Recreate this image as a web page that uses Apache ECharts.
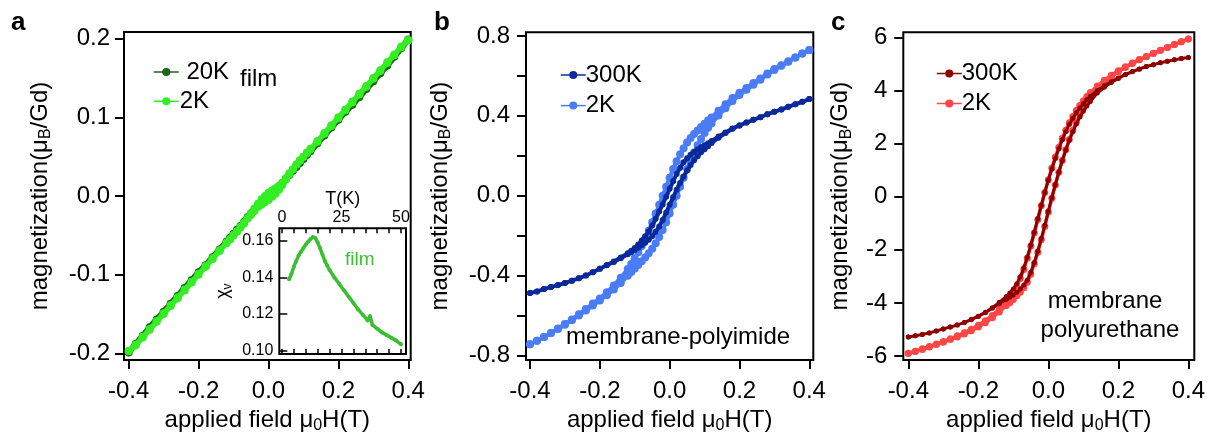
<!DOCTYPE html>
<html><head><meta charset="utf-8">
<script src="https://cdn.jsdelivr.net/npm/echarts@6/dist/echarts.min.js"></script>
<style>html,body{margin:0;padding:0;background:#fff}#c{width:1208px;height:435px}</style>
</head><body><div id="c"></div>
<script>
// ---------- data ----------
const fieldH = [-0.40,-0.38,-0.36,-0.34,-0.32,-0.30,-0.28,-0.26,-0.24,-0.22,-0.20,-0.18,-0.16,-0.14,-0.12,
  -0.11,-0.10,-0.09,-0.08,-0.07,-0.06,-0.05,-0.04,-0.03,-0.02,-0.01,0.00,0.01,0.02,0.03,0.04,0.05,0.06,0.07,0.08,0.09,0.10,0.11,
  0.12,0.14,0.16,0.18,0.20,0.22,0.24,0.26,0.28,0.30,0.32,0.34,0.36,0.38,0.40];

// panel a (film)
const film20K = [-0.199,-0.188,-0.178,-0.167,-0.157,-0.147,-0.137,-0.127,-0.117,-0.107,-0.097,-0.088,-0.078,-0.068,-0.058,
  -0.053,-0.048,-0.043,-0.038,-0.033,-0.027,-0.022,-0.017,-0.012,-0.008,-0.004,0.000,0.004,0.008,0.012,0.017,0.022,0.027,0.032,0.037,0.042,0.047,0.052,
  0.057,0.067,0.077,0.087,0.097,0.107,0.116,0.126,0.136,0.146,0.156,0.166,0.177,0.188,0.199];
const film2KDown = [-0.197,-0.190,-0.180,-0.170,-0.160,-0.150,-0.140,-0.130,-0.120,-0.110,-0.100,-0.090,-0.080,-0.070,-0.060,
  -0.055,-0.050,-0.045,-0.039,-0.034,-0.028,-0.022,-0.016,-0.010,-0.004,0.000,0.004,0.007,0.010,0.013,0.017,0.023,0.029,0.034,0.040,0.045,0.050,0.055,
  0.060,0.070,0.080,0.090,0.100,0.110,0.120,0.130,0.140,0.150,0.160,0.170,0.180,0.190,0.198];
const film2KUp = [-0.197,-0.189,-0.179,-0.169,-0.159,-0.149,-0.139,-0.129,-0.119,-0.109,-0.099,-0.089,-0.079,-0.069,-0.059,
  -0.055,-0.050,-0.045,-0.040,-0.035,-0.029,-0.024,-0.019,-0.014,-0.011,-0.008,-0.005,-0.001,0.003,0.008,0.014,0.021,0.028,0.034,0.040,0.045,0.050,0.055,
  0.059,0.069,0.079,0.089,0.099,0.109,0.119,0.129,0.139,0.149,0.159,0.169,0.179,0.189,0.198];

// inset: susceptibility of film vs T
const insetT = [3,4,5,6,7,8,9,10,11,12,13,14,15,16,17,18,19,20,22,24,26,28,30,32,34,36,37,38,40,42,44,46,48,50];
const insetChi = [0.139,0.142,0.146,0.149,0.152,0.154,0.156,0.158,0.1595,0.161,0.162,0.1615,0.159,0.156,0.1525,0.149,0.1465,0.144,
  0.140,0.1365,0.133,0.1295,0.126,0.1225,0.1195,0.1165,0.119,0.114,0.112,0.110,0.1085,0.107,0.1055,0.1035];

// panel b (membrane-polyimide)
const pi300KDown = [-0.488,-0.480,-0.468,-0.458,-0.448,-0.438,-0.426,-0.414,-0.400,-0.384,-0.366,-0.348,-0.330,-0.310,-0.288,
  -0.276,-0.262,-0.245,-0.225,-0.204,-0.180,-0.150,-0.116,-0.080,-0.044,-0.006,0.034,0.072,0.108,0.140,0.167,0.188,0.205,0.219,0.231,0.242,0.252,0.262,
  0.274,0.296,0.316,0.336,0.352,0.366,0.380,0.393,0.408,0.420,0.432,0.445,0.458,0.470,0.484];
const pi300KUp = [-0.488,-0.480,-0.468,-0.458,-0.448,-0.438,-0.426,-0.414,-0.400,-0.384,-0.366,-0.349,-0.332,-0.314,-0.294,
  -0.283,-0.272,-0.261,-0.249,-0.236,-0.221,-0.203,-0.181,-0.155,-0.122,-0.085,-0.046,-0.008,0.030,0.064,0.096,0.126,0.153,0.177,0.198,0.217,0.233,0.248,
  0.264,0.290,0.314,0.335,0.352,0.366,0.380,0.393,0.408,0.420,0.432,0.445,0.458,0.470,0.484];
const pi2KDown = [-0.745,-0.727,-0.708,-0.688,-0.666,-0.643,-0.620,-0.594,-0.568,-0.541,-0.515,-0.484,-0.450,-0.411,-0.367,
  -0.343,-0.314,-0.284,-0.252,-0.216,-0.176,-0.133,-0.090,-0.045,0.000,0.045,0.090,0.133,0.172,0.207,0.238,0.266,0.289,0.309,0.327,0.344,0.360,0.376,
  0.392,0.426,0.458,0.489,0.515,0.540,0.564,0.587,0.612,0.634,0.653,0.673,0.692,0.712,0.730];
const pi2KUp = [-0.745,-0.727,-0.708,-0.688,-0.668,-0.647,-0.624,-0.600,-0.576,-0.551,-0.525,-0.499,-0.470,-0.438,-0.401,
  -0.383,-0.365,-0.348,-0.329,-0.310,-0.289,-0.266,-0.238,-0.207,-0.172,-0.133,-0.090,-0.045,0.000,0.045,0.090,0.133,0.176,0.216,0.252,0.284,0.314,0.340,
  0.362,0.402,0.438,0.474,0.504,0.531,0.556,0.581,0.607,0.630,0.651,0.671,0.692,0.712,0.730];

// panel c (membrane polyurethane)
const pu300KDown = [-5.28,-5.24,-5.19,-5.13,-5.06,-4.98,-4.91,-4.83,-4.74,-4.62,-4.50,-4.35,-4.18,-3.98,-3.76,
  -3.63,-3.48,-3.28,-3.02,-2.68,-2.28,-1.82,-1.34,-0.83,-0.32,0.16,0.62,1.04,1.44,1.80,2.14,2.45,2.72,2.95,3.16,3.34,3.50,3.65,
  3.78,4.00,4.18,4.33,4.47,4.60,4.71,4.81,4.90,4.97,5.04,5.10,5.15,5.20,5.24];
const pu300KUp = [-5.28,-5.24,-5.19,-5.13,-5.06,-4.98,-4.91,-4.83,-4.74,-4.63,-4.51,-4.37,-4.20,-4.03,-3.87,
  -3.79,-3.70,-3.60,-3.48,-3.33,-3.14,-2.85,-2.48,-2.05,-1.58,-1.08,-0.55,-0.04,0.45,0.92,1.36,1.76,2.12,2.44,2.74,3.00,3.22,3.41,
  3.58,3.90,4.12,4.30,4.45,4.59,4.70,4.80,4.90,4.97,5.04,5.10,5.15,5.20,5.24];
const pu2KDown = [-5.90,-5.82,-5.73,-5.64,-5.55,-5.45,-5.35,-5.24,-5.12,-4.99,-4.84,-4.67,-4.47,-4.24,-3.97,
  -3.76,-3.58,-3.37,-3.08,-2.74,-2.32,-1.86,-1.37,-0.86,-0.34,0.16,0.64,1.08,1.49,1.86,2.20,2.50,2.78,3.02,3.24,3.43,3.61,3.77,
  3.92,4.17,4.38,4.57,4.74,4.89,5.03,5.16,5.28,5.40,5.51,5.62,5.73,5.83,5.94];
const pu2KUp = [-5.90,-5.83,-5.75,-5.66,-5.57,-5.48,-5.38,-5.28,-5.17,-5.05,-4.91,-4.75,-4.56,-4.34,-4.10,
  -3.99,-3.87,-3.73,-3.60,-3.43,-3.22,-2.92,-2.53,-2.09,-1.62,-1.12,-0.58,-0.06,0.44,0.92,1.36,1.77,2.15,2.50,2.80,3.08,3.33,3.55,
  3.74,4.05,4.30,4.51,4.70,4.86,5.01,5.15,5.27,5.39,5.50,5.62,5.73,5.83,5.94];

// tick values
const ticksField = [-0.4,-0.2,0,0.2,0.4];
const ticksA = [-0.2,-0.1,0,0.1,0.2];
const ticksBMajor = [-0.8,-0.4,0,0.4,0.8];
const ticksBAll = [-0.8,-0.6,-0.4,-0.2,0,0.2,0.4,0.6,0.8];
const ticksC = [-6,-4,-2,0,2,4,6];
const ticksInsetT = [0,25,50];
const ticksInsetTMinor = [0,5,10,15,20,25,30,35,40,45,50];
const ticksInsetChi = [0.10,0.12,0.14,0.16];

// ---------- helpers ----------
function branch(vals){ return fieldH.map((h,i)=>[h, vals[i]]); }
function loop(down, up){
  const pts = [];
  for (let i = fieldH.length-1; i >= 0; i--) pts.push([fieldH[i], down[i]]);
  for (let i = 0; i < fieldH.length; i++) pts.push([fieldH[i], up[i]]);
  return pts;
}
const FONT = '"Liberation Sans", Arial, Helvetica, sans-serif';
const BLACK = '#000';
const nameRich = {
  t: {fontSize: 24, fontFamily: FONT, color: BLACK, lineHeight: 28},
  s: {fontSize: 16, fontFamily: FONT, color: BLACK, lineHeight: 12, verticalAlign: 'bottom'}
};
const xName = '{t|applied field μ}{s|0}{t|H(T)}';
const yName = '{t|magnetization(μ}{s|B}{t|/Gd)}';

function fieldAxis(gi, min, max){
  return {gridIndex: gi, type: 'value', min, max,
    axisLine: {show: false, onZero: false}, splitLine: {show: false},
    axisTick: {show: true, length: 9, lineStyle: {color: BLACK, width: 2}, customValues: ticksField},
    axisLabel: {customValues: ticksField, formatter: v => v.toFixed(1), fontSize: 24, color: BLACK, fontFamily: FONT, margin: 19},
    name: xName, nameLocation: 'middle', nameGap: 46, nameTextStyle: {rich: nameRich}};
}
function magAxis(gi, min, max, tickVals, labelVals, dec, margin, gap){
  return {gridIndex: gi, type: 'value', min, max,
    axisLine: {show: false, onZero: false}, splitLine: {show: false},
    axisTick: {show: true, length: 9, lineStyle: {color: BLACK, width: 2}, customValues: tickVals},
    axisLabel: {customValues: labelVals, formatter: v => v.toFixed(dec), fontSize: 24, color: BLACK, fontFamily: FONT, margin},
    name: yName, nameLocation: 'middle', nameGap: gap, nameTextStyle: {rich: nameRich}};
}
function lineSeries(name, xi, data, color, size, width, z){
  return {name, type: 'line', xAxisIndex: xi, yAxisIndex: xi, data, color,
    symbol: 'circle', symbolSize: size, showAllSymbol: true, smooth: false,
    lineStyle: {width, color}, itemStyle: {color}, z, silent: true, animation: false,
    emphasis: {disabled: true}};
}
const COL = {a20: '#1c611c', a2: '#33ee22', inset: '#3cbe32', b300: '#0a2a9c', b2: '#4a7cf6', c300: '#8e0000', c2: '#ff4646'};
const legendNames = {a20K: ' 20K', a2K: '2K', b300K: '300K', b2K: '2K', c300K: '300K', c2K: '2K'};
function legend(names, left, top, gap, padLeft){
  return {data: names, left, top, orient: 'vertical', itemWidth: 25, itemHeight: 10, itemGap: gap,
    selectedMode: false, formatter: n => legendNames[n], lineStyle: {width: 1.5},
    textStyle: {fontSize: 24, color: BLACK, fontFamily: FONT, lineHeight: 24, padding: [0,0,0,padLeft]}};
}
function frame(left, top, width, height, bg){
  return {left, top, width, height, show: true, borderColor: BLACK, borderWidth: 2, backgroundColor: bg,
    outerBoundsMode: 'none', containLabel: false};
}

const option = {
  animation: false,
  backgroundColor: '#fff',
  textStyle: {fontFamily: FONT},
  grid: [
    frame(124, 32, 286.7, 328, 'transparent'),
    frame(526, 32.3, 287.3, 327.7, 'transparent'),
    frame(903.3, 32.3, 291, 327.7, 'transparent'),
    frame(279.3, 228.3, 126.7, 125.7, '#fff')
  ],
  xAxis: [
    fieldAxis(0, -0.4134, 0.4069),
    fieldAxis(1, -0.4115, 0.4115),
    fieldAxis(2, -0.4143, 0.4171),
    {gridIndex: 3, type: 'value', position: 'top', min: -1.13, max: 52.1,
      axisLine: {show: false, onZero: false}, splitLine: {show: false},
      axisTick: {show: true, inside: true, length: 5, lineStyle: {color: BLACK, width: 1.5}, customValues: ticksInsetTMinor},
      axisLabel: {customValues: ticksInsetT, fontSize: 16, color: BLACK, fontFamily: FONT, margin: 3},
      name: 'T(K)', nameLocation: 'middle', nameGap: 19, nameTextStyle: {fontSize: 18, color: BLACK, fontFamily: FONT}},
    {gridIndex: 3, type: 'value', position: 'bottom', min: -1.13, max: 52.1,
      axisLine: {show: false, onZero: false}, splitLine: {show: false},
      axisTick: {show: true, inside: true, length: 5, lineStyle: {color: BLACK, width: 1.5}, customValues: ticksInsetTMinor},
      axisLabel: {show: false}}
  ],
  yAxis: [
    magAxis(0, -0.2085, 0.2085, ticksA, ticksA, 1, 14, 70),
    magAxis(1, -0.8235, 0.8185, ticksBAll, ticksBMajor, 1, 16, 72),
    magAxis(2, -6.15, 6.188, ticksC, ticksC, 0, 16, 49),
    {gridIndex: 3, type: 'value', min: 0.0982, max: 0.1668,
      axisLine: {show: false, onZero: false}, splitLine: {show: false},
      axisTick: {show: true, inside: true, length: 8, lineStyle: {color: BLACK, width: 1.5}, customValues: ticksInsetChi},
      axisLabel: {customValues: ticksInsetChi, formatter: v => v.toFixed(2), fontSize: 16, color: BLACK, fontFamily: FONT, margin: 6},
      name: '{t|χ}{s|v}', nameLocation: 'middle', nameGap: 46,
      nameTextStyle: {rich: {t: {fontSize: 18, color: BLACK, fontFamily: FONT, lineHeight: 20}, s: {fontSize: 12, color: BLACK, fontFamily: FONT, lineHeight: 8, verticalAlign: 'bottom'}}}}
  ],
  legend: [
    legend(['a20K','a2K'], 148, 55, 5.3, -4),
    legend(['b300K','b2K'], 555, 58, 6.6, -5),
    legend(['c300K','c2K'], 931, 56.5, 6, -5)
  ],
  series: [
    lineSeries('a20K', 0, branch(film20K), COL.a20, 8, 6, 2),
    lineSeries('a2K', 0, loop(film2KDown, film2KUp), COL.a2, 8, 5, 3),
    lineSeries('b2K', 1, loop(pi2KDown, pi2KUp), COL.b2, 8, 4, 2),
    lineSeries('b300K', 1, loop(pi300KDown, pi300KUp), COL.b300, 6, 4, 3),
    lineSeries('c2K', 2, loop(pu2KDown, pu2KUp), COL.c2, 7, 3.5, 2),
    lineSeries('c300K', 2, loop(pu300KDown, pu300KUp), COL.c300, 5, 3, 3),
    Object.assign(lineSeries('insetChi', 3, insetT.map((t,i)=>[t, insetChi[i]]), COL.inset, 4, 3.5, 3), {yAxisIndex: 3})
  ],
  graphic: [
    {type: 'text', x: 11, y: 23, style: {text: 'a', font: 'bold 26px ' + FONT, fill: BLACK, align: 'left', verticalAlign: 'middle'}},
    {type: 'text', x: 434, y: 23, style: {text: 'b', font: 'bold 26px ' + FONT, fill: BLACK, align: 'left', verticalAlign: 'middle'}},
    {type: 'text', x: 831, y: 23, style: {text: 'c', font: 'bold 26px ' + FONT, fill: BLACK, align: 'left', verticalAlign: 'middle'}},
    {type: 'text', x: 240, y: 79, style: {text: 'film', font: '24px ' + FONT, fill: BLACK, align: 'left', verticalAlign: 'middle'}},
    {type: 'text', x: 345, y: 260, style: {text: 'film', font: '19px ' + FONT, fill: COL.inset, align: 'left', verticalAlign: 'middle'}},
    {type: 'text', x: 566, y: 337, style: {text: 'membrane-polyimide', font: '24px ' + FONT, fill: BLACK, align: 'left', verticalAlign: 'middle'}},
    {type: 'text', x: 1105, y: 301, style: {text: 'membrane', font: '24px ' + FONT, fill: BLACK, align: 'center', verticalAlign: 'middle'}},
    {type: 'text', x: 1110, y: 330, style: {text: 'polyurethane', font: '24px ' + FONT, fill: BLACK, align: 'center', verticalAlign: 'middle'}}
  ]
};
const chart = echarts.init(document.getElementById('c'), null, {renderer: 'canvas'});
chart.setOption(option);
</script></body></html>
